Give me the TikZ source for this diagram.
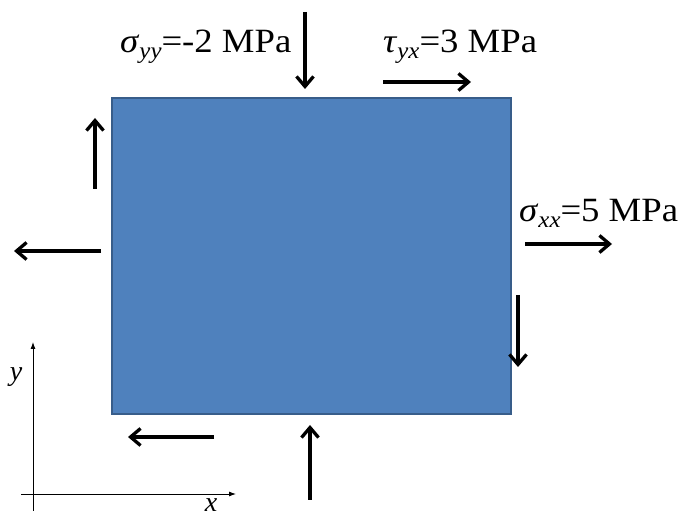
\documentclass[tikz,border=0pt]{standalone}
\usepackage{fontspec}
\setmainfont{Liberation Serif}
\usetikzlibrary{arrows.meta}
\definecolor{boxfill}{HTML}{4F81BD}
\definecolor{boxedge}{HTML}{385D8A}
\tikzset{
  force/.style={line width=3.3pt, -{Straight Barb[length=10pt,width=17pt,line width=3.3pt]}},
  axis/.style={line width=0.9pt, -{Latex[length=7pt,width=5pt]}},
  lbl/.style={inner sep=0pt, anchor=base west, font=\fontsize{34}{38}\selectfont},
  axlbl/.style={inner sep=0pt, font=\fontsize{28}{30}\selectfont\itshape}
}
\newcommand{\sbs}[1]{\raisebox{-0.35ex}{\fontsize{23}{25}\selectfont\itshape #1}}
\newcommand{\wide}[1]{\scalebox{1.08}[1]{#1}}
\begin{document}
\begin{tikzpicture}[x=1pt,y=-1pt]
\useasboundingbox (0,0) rectangle (681,518);
\node[draw=boxedge, fill=boxfill, line width=1.6pt, minimum width=399pt, minimum height=316pt, inner sep=0pt, anchor=north west] (plate) at (111,97) {};
% labels
\node[lbl] (syy) at (120,53) {\wide{\textit{σ}\sbs{yy}=-2 MPa}};
\node[lbl] (tyx) at (383,53) {\wide{\textit{τ}\sbs{yx}=3 MPa}};
\node[lbl] (sxx) at (519,222) {\wide{\textit{σ}\sbs{xx}=5 MPa}};
% force arrows
\coordinate (t1) at (305,12); \coordinate (t2) at (305,89);
\draw[force] (t1) -- (t2);
\coordinate (tr1) at (383,82); \coordinate (tr2) at (471,82);
\draw[force] (tr1) -- (tr2);
\coordinate (l1) at (95,189); \coordinate (l2) at (95,118);
\draw[force] (l1) -- (l2);
\coordinate (lf1) at (101,251); \coordinate (lf2) at (14,251);
\draw[force] (lf1) -- (lf2);
\coordinate (r1) at (525,244); \coordinate (r2) at (612,244);
\draw[force] (r1) -- (r2);
\coordinate (rd1) at (518,295); \coordinate (rd2) at (518,367);
\draw[force] (rd1) -- (rd2);
\coordinate (b1) at (214,437); \coordinate (b2) at (128,437);
\draw[force] (b1) -- (b2);
\coordinate (bu1) at (310,500); \coordinate (bu2) at (310,425);
\draw[force] (bu1) -- (bu2);
% axes
\coordinate (ya) at (33,511); \coordinate (yb) at (33,342);
\coordinate (xa) at (21,494); \coordinate (xb) at (236,494);
\draw[axis] (ya) -- (yb);
\draw[axis] (xa) -- (xb);
\node[axlbl] (ylab) at (16,377) {y};
\node[axlbl] (xlab) at (211,505) {x};
\end{tikzpicture}
\end{document}
